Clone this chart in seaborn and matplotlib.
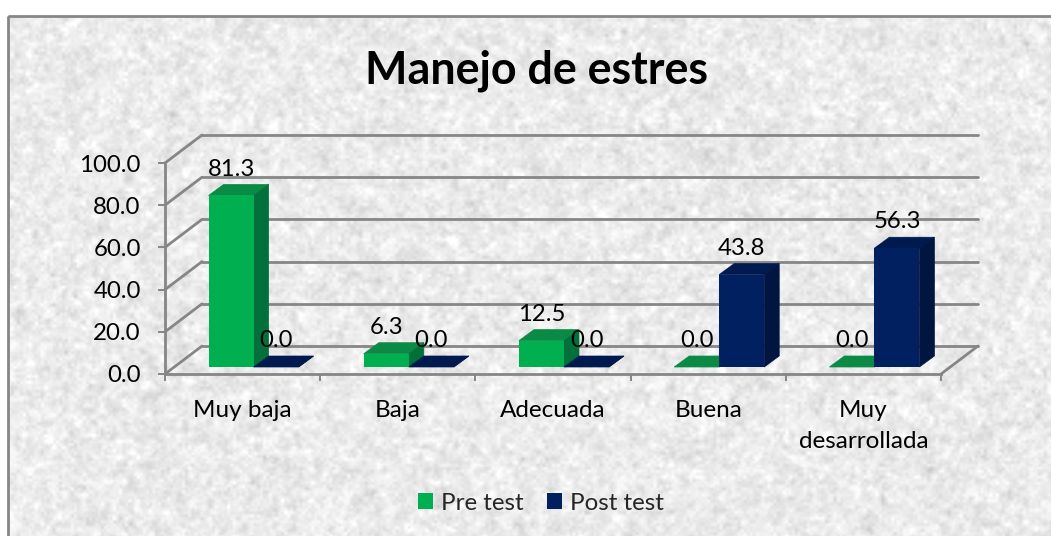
import numpy as np
import pandas as pd
import matplotlib.pyplot as plt
import seaborn as sns
from matplotlib.patches import Polygon, Rectangle
from matplotlib.transforms import Affine2D, IdentityTransform

categorias = ["Muy baja", "Baja", "Adecuada", "Buena", "Muy\ndesarrollada"]
pre_test = [81.3, 6.3, 12.5, 0.0, 0.0]
post_test = [0.0, 0.0, 0.0, 43.8, 56.3]
y_ticks = [0, 20, 40, 60, 80, 100]

df = pd.DataFrame({
    "categoria": categorias * 2,
    "valor": pre_test + post_test,
    "serie": ["Pre test"] * 5 + ["Post test"] * 5,
})

sns.set_theme(style="white")
plt.rcParams["font.family"] = ["Lato", "DejaVu Sans"]

W, H = 1051, 536
GRIS = "#868686"
fig = plt.figure(figsize=(W / 100, H / 100), dpi=100)

# fondo con textura de papel (solo decorado)
bg = fig.add_axes([0, 0, 1, 1], zorder=0)
bg.axis("off")
rng = np.random.default_rng(7)
tex = np.zeros((H, W))
for paso, peso in [(3, 0.8), (6, 1.0), (14, 0.4)]:
    n = rng.normal(size=(H // paso + 2, W // paso + 2))
    n = np.kron(n, np.ones((paso, paso)))[:H, :W]
    k = np.ones(paso) / paso
    n = np.apply_along_axis(lambda r: np.convolve(r, k, mode="same"), 0, n)
    n = np.apply_along_axis(lambda r: np.convolve(r, k, mode="same"), 1, n)
    tex += peso * n / n.std()
tex = 235 + 7 * tex / tex.std()
bg.imshow(tex, cmap="gray", vmin=0, vmax=255, extent=(8, 1060, 546, 16), aspect="auto", interpolation="bilinear")
bg.set_xlim(0, W)
bg.set_ylim(H, 0)
bg.add_patch(Rectangle((8, 16), 1060, 530, fill=False, ec=GRIS, lw=2))

# plano frontal del grafico
ax = fig.add_axes([165 / W, (H - 374) / H, 776 / W, 211 / H], zorder=1)
ax.patch.set_alpha(0)
sns.barplot(data=df, x="categoria", y="valor", hue="serie", order=categorias,
            palette=["#00B050", "#002060"], width=0.58, saturation=1, gap=0, linewidth=0, ax=ax)
ax.set_xlim(-0.5, 4.5)
ax.set_ylim(0, 100)
ax.set_xlabel("")
ax.set_ylabel("")
ax.set_yticks(y_ticks, [f"{t:.1f}" for t in y_ticks])
ax.set_xticks(np.arange(-0.5, 5, 1), minor=True)
ax.set_xticks(range(5), categorias)
sns.despine(ax=ax)
for s in ["left", "bottom"]:
    ax.spines[s].set_color(GRIS)
    ax.spines[s].set_linewidth(2)
ax.tick_params(axis="y", colors=GRIS, length=5, width=1.4, pad=12.5, left=True, labelsize=17.3, labelcolor="black")
ax.tick_params(axis="x", which="minor", colors=GRIS, length=5, width=1.4, bottom=True)
ax.tick_params(axis="x", which="major", length=0, pad=18.5, labelsize=17.5, labelcolor="black")
for lab in ax.get_xticklabels():
    lab.set_linespacing(1.6)
    lab.set_verticalalignment("top")


def px(x, y):
    # de datos a pixeles de la figura
    return ax.transData.transform((x, y))


# paredes: rejilla del fondo y diagonales
FONDO = np.array([37, 28])
for t in y_ticks:
    ini = px(-0.5, t)
    fin = px(4.5, t)
    for a, b in [[ini, ini + FONDO], [ini + FONDO, fin + FONDO]]:
        ax.plot([a[0], b[0]], [a[1], b[1]], color=GRIS, lw=2, transform=IdentityTransform(),
                clip_on=False, zorder=1, solid_capstyle="round")
a = px(4.5, 0)
ax.plot([a[0], a[0] + FONDO[0]], [a[1], a[1] + FONDO[1]], color=GRIS, lw=2,
        transform=IdentityTransform(), clip_on=False, zorder=1)

# barras con volumen: cara frontal de seaborn, tapa y lateral encima
CORRE = np.array([11, 7])
PROF = np.array([15, 11])
tonos = [("#0A8A45", "#02703A"), ("#001A50", "#00153F")]
mover = ax.transData + Affine2D().translate(*CORRE)
for i, cont in enumerate(ax.containers):
    tapa, lado = tonos[i]
    z = 3 + i
    for barra in cont:
        x0, x1 = barra.get_x(), barra.get_x() + barra.get_width()
        h = barra.get_height()
        barra.set_transform(mover)
        barra.set_zorder(z + 0.1)
        barra.set_clip_on(False)
        p0 = px(x0, h) + CORRE
        p1 = px(x1, h) + CORRE
        b1 = px(x1, 0) + CORRE
        ax.add_patch(Polygon([p0, p1, p1 + PROF, p0 + PROF], fc=tapa, ec=tapa, lw=0.5,
                             transform=IdentityTransform(), clip_on=False, zorder=z))
        ax.add_patch(Polygon([b1, b1 + PROF, p1 + PROF, p1], fc=lado, ec=lado, lw=0.5,
                             transform=IdentityTransform(), clip_on=False, zorder=z))
        ax.annotate(f"{h:.1f}", xy=(x0 + barra.get_width() / 2, h), xycoords=mover,
                    xytext=(0, 19), textcoords="offset points", ha="center", va="center",
                    fontsize=17.2, color="black", zorder=10, annotation_clip=False)

sns.move_legend(ax, "center", bbox_to_anchor=(541 / W, (H - 503) / H), bbox_transform=fig.transFigure,
                ncol=2, frameon=False, title=None, fontsize=17.4, handlelength=0.62, handleheight=0.62,
                handletextpad=0.33, columnspacing=1.0)
for h in ax.get_legend().get_patches():
    h.set_linewidth(0)

ax.text(536.5 / W, (H - 71) / H, "Manejo de estres", transform=fig.transFigure, ha="center", va="center",
        fontsize=32.3, fontweight="bold", color="black")

fig.savefig("out.png", dpi=100)
